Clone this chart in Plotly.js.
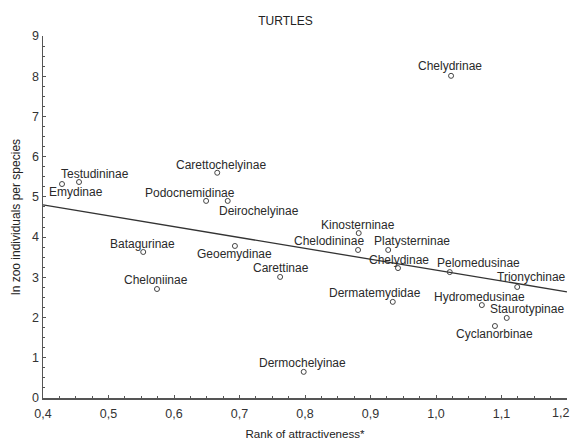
<!DOCTYPE html>
<html>
<head>
<meta charset="utf-8">
<script src="https://cdn.plot.ly/plotly-3.0.1.min.js"></script>
<style>html,body{margin:0;padding:0;background:#fff;}#chart{width:571px;height:444px;}</style>
</head>
<body>
<div id="chart"></div>
<script>
// ---- data ----
var taxa = ["Emydinae","Testudininae","Carettochelyinae","Podocnemidinae","Deirochelyinae","Chelydrinae",
  "Batagurinae","Cheloniinae","Geoemydinae","Carettinae","Dermochelyinae","Kinosterninae","Chelodininae",
  "Platysterninae","Chelydinae","Dermatemydidae","Pelomedusinae","Trionychinae","Hydromedusinae",
  "Staurotypinae","Cyclanorbinae"];
var rankAttractiveness = [0.429,0.455,0.666,0.649,0.682,1.023,0.553,0.574,0.693,0.762,0.798,0.882,0.881,
  0.927,0.942,0.934,1.021,1.124,1.070,1.108,1.090];
var lnZooPerSpecies = [5.32,5.37,5.60,4.90,4.90,8.01,3.63,2.71,3.78,3.01,0.65,4.10,3.68,3.68,3.23,2.39,
  3.13,2.76,2.31,1.99,1.79];
var fitX = [0.4, 1.2];
var fitY = [4.80, 2.64];
var xTicks = [0.4,0.5,0.6,0.7,0.8,0.9,1.0,1.1,1.2];
var xTickText = ["0,4","0,5","0,6","0,7","0,8","0,9","1,0","1,1","1,2"];

// ---- label placement (pixel offsets of each label from its point; right, down) ----
var labelDx = [14,16,4,-16,31,-1,-1,-1,0,1,-1,-1,-29,24,1,-18,29,14,-2,20,0];
var labelDy = [8,-8,-8,-8,10,-10,-8,-9,8,-9,-9,-8,-9,-9,-8,-9,-9,-10,-8,-9,8];

var FONT = "Liberation Sans, Arial, sans-serif";
var annotations = taxa.map(function(t, i){
  return {x: rankAttractiveness[i], y: lnZooPerSpecies[i], xref:'x', yref:'y', text: t,
    showarrow:false, xanchor:'center', yanchor:'middle', xshift: labelDx[i], yshift: -labelDy[i],
    font:{family:FONT, size:12, color:'#2a2a2a'}};
});
// last x tick label: drawn as a right-aligned annotation so it stays inside the page
var lastIdx = xTicks.length - 1;
var shownTickText = xTickText.map(function(t, i){ return i === lastIdx ? "" : t; });
annotations.push({x: xTicks[lastIdx], y: 0, xref:'x', yref:'paper', text: xTickText[lastIdx],
  showarrow:false, xanchor:'right', yanchor:'middle', xshift: 4, yshift: -15,
  font:{family:FONT, size:12.5, color:'#333'}});

var traces = [
  {x: fitX, y: fitY, mode:'lines', line:{color:'#333', width:1.3}, hoverinfo:'skip', cliponaxis:false},
  {x: rankAttractiveness, y: lnZooPerSpecies, mode:'markers', text: taxa,
   marker:{symbol:'circle-open', size:5, color:'#444', line:{width:1}}}
];

var axisCommon = {showline:true, linecolor:'#555', linewidth:1.5, showgrid:false, zeroline:false,
  ticks:'inside', ticklen:3, tickcolor:'#555', tickwidth:1,
  tickfont:{family:FONT, size:12.5, color:'#333'}};

var layout = {
  width:571, height:444, showlegend:false,
  paper_bgcolor:'#fff', plot_bgcolor:'#fff',
  separators:', ',
  margin:{l:43, r:4, t:36, b:46},
  title:{text:'TURTLES', x:0.5, xref:'container', y:1-21/444, yref:'container', yanchor:'middle',
    font:{family:FONT, size:12, color:'#222'}},
  xaxis: Object.assign({}, axisCommon, {range:[0.4,1.2], tickmode:'array', tickvals:xTicks, ticktext:shownTickText,
    ticklabelstandoff:3,
    minor:{dtick:0.025, tick0:0.4, ticks:'inside', ticklen:2, tickcolor:'#555'},
    title:{text:'Rank of attractiveness*', standoff:10, font:{family:FONT, size:11.6, color:'#222'}}}),
  yaxis: Object.assign({}, axisCommon, {range:[0,9], dtick:1, tick0:0,
    minor:{dtick:0.25, ticks:'inside', ticklen:2, tickcolor:'#555'},
    title:{text:'ln zoo individuals per species', standoff:9, font:{family:FONT, size:12, color:'#222'}}}),
  annotations: annotations
};

Plotly.newPlot('chart', traces, layout, {displayModeBar:false, staticPlot:true});
</script>
</body>
</html>
